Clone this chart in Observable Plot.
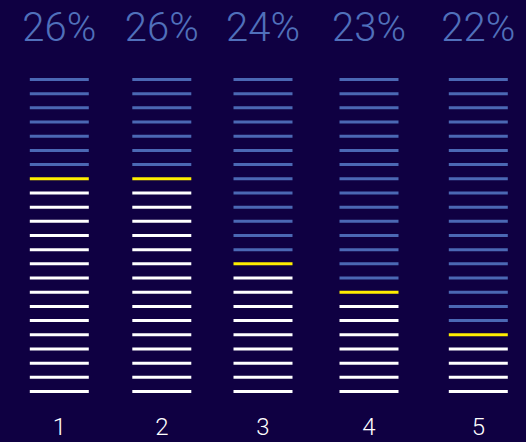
<!DOCTYPE html>
<html>
<head>
<meta charset="utf-8">
<script src="https://cdn.jsdelivr.net/npm/d3@7"></script>
<script src="https://cdn.jsdelivr.net/npm/@observablehq/plot@0.6"></script>
<style>
  html, body { margin: 0; padding: 0; background: #0f0042; }
  #chart { width: 526px; height: 442px; }
</style>
</head>
<body>
<div id="chart"></div>
<script>
const columns = [1, 2, 3, 4, 5];
const percents = [26, 26, 24, 23, 22];
const markerRow = [7, 7, 13, 15, 18];
const rowCount = 23;

const lines = [];
columns.forEach((c, i) => {
  for (let r = 0; r < rowCount; r++) {
    lines.push({col: c, row: r, kind: r < markerRow[i] ? "above" : r === markerRow[i] ? "marker" : "below"});
  }
});
const labels = columns.map((c, i) => ({col: c, pct: percents[i]}));

const hline = {draw(context, l) { context.moveTo(0, 0); context.lineTo(0, -l); }};

const chart = Plot.plot({
  width: 526,
  height: 442,
  marginTop: 79,
  marginBottom: 51,
  marginLeft: 0,
  marginRight: 0,
  style: {background: "#0f0042"},
  x: {type: "linear", domain: columns, range: [58.8, 161.3, 262.5, 368.5, 477.8], axis: null},
  y: {domain: [0, rowCount - 1], reverse: true, axis: null},
  color: {domain: ["above", "marker", "below"], range: ["#4b68b4", "#ffee00", "#ffffff"]},
  marks: [
    Plot.vector(lines, {x: "col", y: "row", length: 59, rotate: 90, anchor: "middle", shape: hline, stroke: "kind", strokeWidth: 3, strokeLinecap: "butt"}),
    Plot.text(labels, {x: "col", frameAnchor: "top", lineAnchor: "middle", dy: -51, text: d => d.pct + "%", fill: "#5070bb", fontSize: 40, fontFamily: "Roboto", fontWeight: 300}),
    Plot.text(labels, {x: "col", frameAnchor: "bottom", lineAnchor: "middle", dy: 36, text: d => String(d.col), fill: "#ffffff", fontSize: 24, fontFamily: "Roboto", fontWeight: 300})
  ]
});
document.getElementById("chart").appendChild(chart);
</script>
</body>
</html>
